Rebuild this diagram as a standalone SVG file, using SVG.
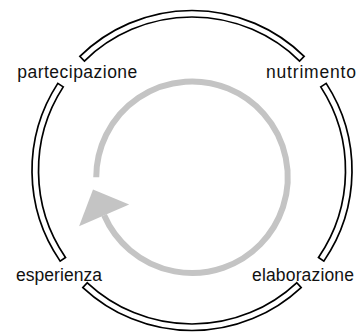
<svg xmlns="http://www.w3.org/2000/svg" width="359" height="336" viewBox="0 0 359 336">
  <style>
    .ring { fill: #ffffff; stroke: #000000; stroke-width: 1.7; stroke-linejoin: miter; }
    .label { font-family: "Liberation Sans", Arial, sans-serif; font-size: 17.5px; fill: #111111; }
    .cycle { fill: none; stroke: #c4c4c4; stroke-width: 6; }
  </style>
  <defs>
    <marker id="cycle-head" markerUnits="userSpaceOnUse" orient="auto" refX="0" refY="0"
            markerWidth="60" markerHeight="60" viewBox="-2 -30 34 60" overflow="visible">
      <path d="M0,-27.3 L28,0 L0,27.3 Z" fill="#c4c4c4"/>
    </marker>
  </defs>
  <rect width="359" height="336" fill="#ffffff"/>

  <!-- outer ring: four banded arcs between the stages -->
  <g id="connectors">
    <path class="ring" d="M79.85,56.38 A160,160 0 0 1 304.15,56.38 L299.59,61.02 A153.5,153.5 0 0 0 84.41,61.02 Z"/>
    <path class="ring" d="M326.19,83.36 A160,160 0 0 1 323.86,261.13 L318.50,257.44 A153.5,153.5 0 0 0 320.74,86.90 Z"/>
    <path class="ring" d="M301.12,287.52 A160,160 0 0 1 82.88,287.52 L87.31,282.76 A153.5,153.5 0 0 0 296.69,282.76 Z"/>
    <path class="ring" d="M60.14,261.13 A160,160 0 0 1 57.81,83.36 L63.26,86.90 A153.5,153.5 0 0 0 65.50,257.44 Z"/>
    <!-- inner clockwise cycle arrow -->
    <path class="cycle" d="M96.25,177.25 A95.75,95.75 0 1 1 104.13,215.28" marker-end="url(#cycle-head)"/>
  </g>

  <g id="partecipazione">
    <text class="label" x="17.3" y="77.5" textLength="120" lengthAdjust="spacing">partecipazione</text>
  </g>
  <g id="nutrimento">
    <text class="label" x="266" y="77.5" textLength="90" lengthAdjust="spacing">nutrimento</text>
  </g>
  <g id="elaborazione">
    <text class="label" x="252" y="281" textLength="102" lengthAdjust="spacing">elaborazione</text>
  </g>
  <g id="esperienza">
    <text class="label" x="16" y="281" textLength="86" lengthAdjust="spacing">esperienza</text>
  </g>
</svg>
